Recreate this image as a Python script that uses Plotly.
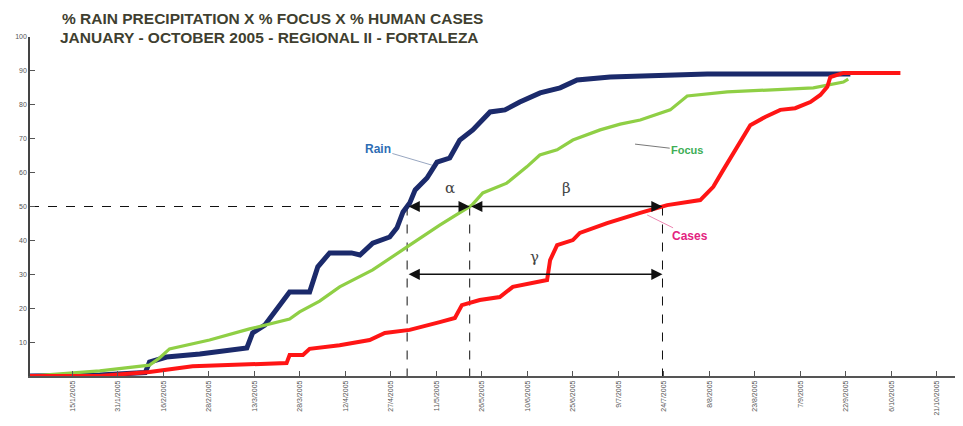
import numpy as np
import plotly.graph_objects as go

# ---------------- data (day 0 = 1 Jan 2005, values in %) ----------------
rain_day = [0, 23, 38, 39.4, 45, 56, 71.5, 73.4, 77.4, 81.4, 85.6, 92.2, 94.9, 98.8, 106, 108.8,
            113, 118.6, 121, 123, 125.2, 127, 130.9, 134.2, 138.4, 141.7, 146, 151.7, 156.6,
            161.5, 168.2, 174.8, 180.4, 191.3, 223.3, 270.5]
rain_val = [0, 0.3, 1, 4.1, 5.6, 6.5, 8.3, 12.7, 15, 19.5, 24.8, 24.8, 32.2, 36.3, 36.3, 35.7,
            39.2, 41, 43.7, 48.4, 51, 54.9, 58.4, 63.1, 64.3, 69.6, 72.6, 77.9, 78.5,
            80.8, 83.5, 85, 87.3, 88.2, 89.1, 89.1]

focus_day = [0, 23, 39.4, 42.7, 46, 59.2, 72.4, 85.6, 88.9, 95.5, 102.1, 113, 125.2, 135.1,
             145.7, 149.3, 157.2, 163.8, 168.1, 173.8, 179, 188, 194.6, 201.2, 211.1, 216.7,
             229.9, 258.3, 268.2, 269.8]
focus_val = [0, 1.5, 3.2, 5.3, 8, 10.6, 13.9, 16.8, 18.9, 22.1, 26.3, 31.3, 38.6, 44.5,
             50.4, 54, 56.9, 61.7, 65.2, 66.7, 69.6, 72.6, 74.3, 75.5, 78.5, 82.6,
             83.8, 85, 86.7, 87.6]

cases_day = [0, 23, 39.4, 53.6, 84.6, 85.6, 90, 92.2, 102.1, 112, 117, 125.2, 135.1, 140.1,
             142.4, 148.3, 154.9, 159.2, 170.5, 171.5, 173.8, 179, 181.3, 190.3, 201.2, 210.1,
             221, 225.3, 228.6, 233.2, 237.5, 242.4, 247.4, 252.3, 257.3, 260.6, 262.9, 263.9,
             268.2, 287]
cases_val = [0, 0, 1.2, 2.9, 3.8, 6.2, 6.2, 8, 9.1, 10.6, 12.7, 13.6, 15.9, 17.1,
             20.9, 22.4, 23.3, 26.3, 28.3, 34.2, 38.6, 40.1, 42.2, 45.1, 48.1, 50.4,
             51.9, 55.8, 60.8, 67.6, 74, 76.4, 78.5, 79, 80.8, 82.9, 85.3, 88.2,
             89.4, 89.4]

tick_days = [14 + 15 * i for i in range(20)]
tick_labels = ["15/1/2005", "31/1/2005", "16/2/2005", "28/2/2005", "13/3/2005", "28/3/2005",
               "12/4/2005", "27/4/2005", "11/5/2005", "26/5/2005", "10/6/2005", "25/6/2005",
               "9/7/2005", "24/7/2005", "8/8/2005", "23/8/2005", "7/9/2005", "22/9/2005",
               "6/10/2005", "21/10/2005"]
y_ticks = [10, 20, 30, 40, 50, 60, 70, 80, 90, 100]

TITLE_1 = "% RAIN PRECIPITATION X % FOCUS X % HUMAN CASES"
TITLE_2 = "JANUARY - OCTOBER 2005 - REGIONAL II - FORTALEZA"
LEVEL = 50
GAMMA_LEVEL = 30


def crossing(days, vals, level):
    for i in range(1, len(vals)):
        if vals[i] >= level:
            d0, d1, v0, v1 = days[i - 1], days[i], vals[i - 1], vals[i]
            return d0 + (level - v0) * (d1 - d0) / (v1 - v0)
    return days[-1]


x_rain = crossing(rain_day, rain_val, LEVEL)
x_focus = crossing(focus_day, focus_val, LEVEL)
x_cases = crossing(cases_day, cases_val, LEVEL)

fig = go.Figure()
fig.add_trace(go.Scatter(x=rain_day, y=rain_val, mode="lines", name="Rain",
                         line=dict(color="#1b2a6b", width=5)))
fig.add_trace(go.Scatter(x=focus_day, y=focus_val, mode="lines", name="Focus",
                         line=dict(color="#8fcf45", width=3.2)))
fig.add_trace(go.Scatter(x=cases_day, y=cases_val, mode="lines", name="Cases",
                         line=dict(color="#ff1515", width=4)))

dash = dict(color="#111111", width=1, dash="dash")
fig.add_shape(type="line", x0=0, x1=x_rain, y0=LEVEL, y1=LEVEL, line=dash, layer="below")
for xc in (x_rain, x_focus, x_cases):
    fig.add_shape(type="line", x0=xc, x1=xc, y0=LEVEL, y1=-2, line=dash, layer="below")

arrow_common = dict(xref="x", yref="y", axref="x", ayref="y", text="", showarrow=True,
                    arrowhead=2, arrowsize=1.6, arrowwidth=1.4, arrowcolor="#111111",
                    arrowside="end+start", standoff=0, startstandoff=0)
fig.add_annotation(x=x_focus, y=LEVEL, ax=x_rain, ay=LEVEL, **arrow_common)
fig.add_annotation(x=x_cases, y=LEVEL, ax=x_focus, ay=LEVEL, **arrow_common)
fig.add_annotation(x=x_cases, y=GAMMA_LEVEL, ax=x_rain, ay=GAMMA_LEVEL, **arrow_common)

greek_font = dict(family="DejaVu Serif", size=15, color="#444444")
fig.add_annotation(x=x_rain + (x_focus - x_rain) * 0.68, y=LEVEL + 5.6, text="α",
                   showarrow=False, font=greek_font)
fig.add_annotation(x=(x_focus + x_cases) / 2, y=LEVEL + 5.5, text="β",
                   showarrow=False, font=greek_font)
fig.add_annotation(x=(x_rain + x_cases) / 2, y=GAMMA_LEVEL + 5, text="γ",
                   showarrow=False, font=greek_font)

# series labels with leader lines
lbl = dict(xref="x", yref="y", axref="x", ayref="y", showarrow=True, arrowhead=0,
           arrowwidth=0.8, standoff=0)
fig.add_annotation(x=132.5, y=62.2, ax=114.7, ay=66.9, text="<b>Rain</b>",
                   font=dict(family="Liberation Sans", size=12, color="#2e6db4"),
                   arrowcolor="#7d8fb0", **lbl)
fig.add_annotation(x=199.5, y=68.4, ax=216.7, ay=66.6, text="<b>Focus</b>",
                   font=dict(family="Liberation Sans", size=11, color="#3dae55"),
                   arrowcolor="#555555", **lbl)
fig.add_annotation(x=203.5, y=47.5, ax=217.7, ay=41.2, text="<b>Cases</b>",
                   font=dict(family="Liberation Sans", size=12, color="#e3237f"),
                   arrowcolor="#e86aa0", **lbl)

title_font = dict(family="Liberation Sans", size=15.5, color="#3f3f30")
fig.add_annotation(xref="paper", yref="paper", x=0.0324, y=1.055, xanchor="left",
                   yanchor="middle", text="<b>" + TITLE_1 + "</b>", showarrow=False,
                   font=title_font)
fig.add_annotation(xref="paper", yref="paper", x=0.030, y=0.998, xanchor="left",
                   yanchor="middle", text="<b>" + TITLE_2 + "</b>", showarrow=False,
                   font=title_font)

fig.update_xaxes(range=[0, 305], tickmode="array", tickvals=tick_days, ticktext=tick_labels,
                 tickangle=-90, tickfont=dict(family="Liberation Sans", size=7, color="#555555"),
                 ticks="inside", ticklen=5, tickcolor="#555555", showgrid=False, zeroline=False,
                 showline=True, linecolor="#555555", linewidth=1.5)
fig.update_yaxes(range=[0, 100], tickmode="array", tickvals=y_ticks,
                 ticktext=[str(v) for v in y_ticks],
                 tickfont=dict(family="Liberation Sans", size=7, color="#555555"),
                 ticks="inside", ticklen=5, tickcolor="#555555", showgrid=False, zeroline=False,
                 showline=True, linecolor="#444444", linewidth=1.5)

# the page body adds an 8px offset, so the figure is sized to fit the 963x426 window
fig.update_layout(width=955, height=418, margin=dict(l=22, r=8, t=29, b=50),
                  paper_bgcolor="white", plot_bgcolor="white", showlegend=False)

fig.write_html("out.html")
